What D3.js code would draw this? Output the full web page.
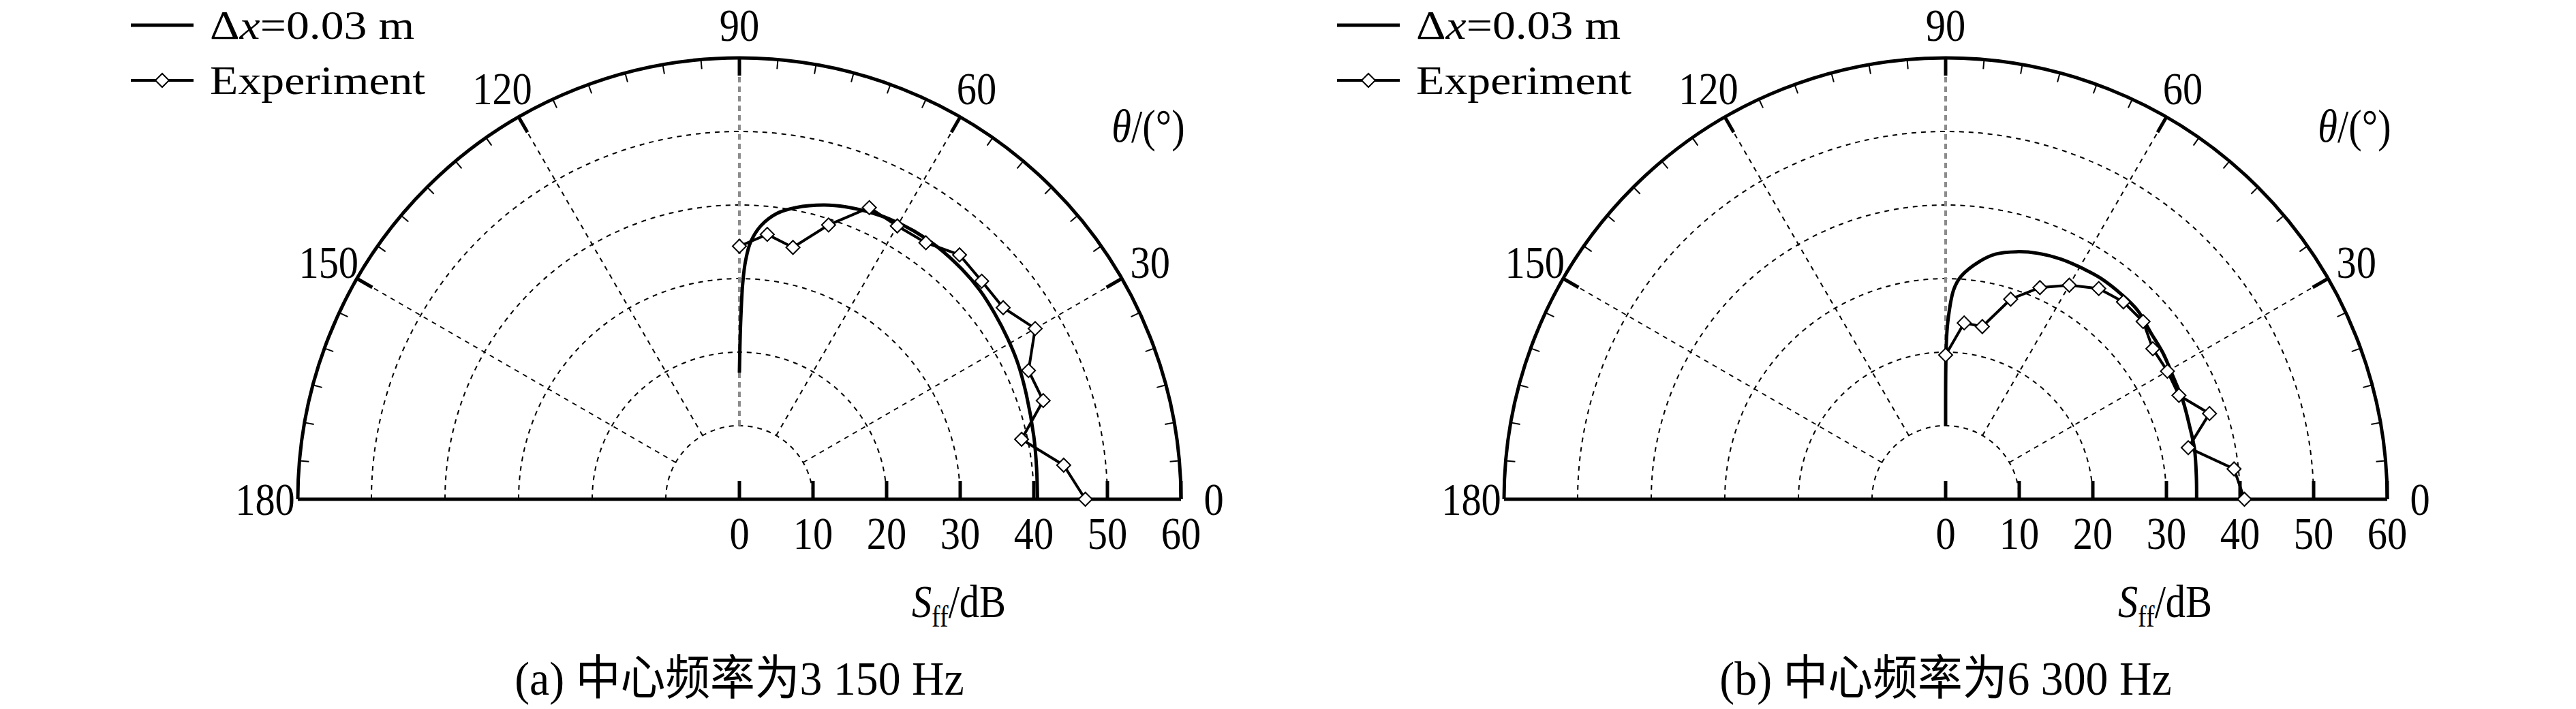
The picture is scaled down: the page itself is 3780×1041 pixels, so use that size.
<!DOCTYPE html>
<html>
<head>
<meta charset="utf-8">
<script src="https://cdn.jsdelivr.net/npm/d3@7"></script>
<style>
  body { margin: 0; background: #fff; }
  text { font-family: "Liberation Serif", "Times New Roman", "Noto Sans CJK SC", serif; fill: #000; }
</style>
</head>
<body>
<svg id="chart"></svg>
<script>
// ---- data ----
const angleTicks = [0, 30, 60, 90, 120, 150, 180];
const radialTicks = [0, 10, 20, 30, 40, 50, 60];
const gridRings = [10, 20, 30, 40, 50];
const spokeAngles = [30, 60, 90, 120, 150];

// experiment: one point every 6 degrees
const expTheta = [0, 6, 12, 18, 24, 30, 36, 42, 48, 54, 60, 66, 72, 78, 84, 90];
const expA = [47.0, 44.3, 39.2, 43.4, 43.0, 46.4, 44.3, 44.3, 44.7, 43.1, 42.9, 43.4, 39.2, 35.0, 36.2, 34.4];
const expB = [40.6, 39.4, 33.7, 37.7, 34.7, 34.8, 34.8, 36.1, 36.1, 35.4, 33.6, 31.5, 28.6, 24.0, 24.1, 19.6];

// simulation, dx = 0.03 m
const simThetaA = [0, 6, 12, 20, 26, 31, 36, 41, 46, 52, 57, 62, 66, 70, 74, 79, 82.5, 85.5, 87.5, 88.5, 89.1, 89.6, 90];
const simA = [40.5, 40.6, 40.9, 41.5, 42.1, 42.5, 42.9, 43.3, 43.5, 43.6, 43.5, 43.2, 42.8, 42.3, 41.6, 40.4, 39.2, 37.3, 35.0, 32.5, 29.5, 24.0, 17.2];
const simThetaB = [0, 5, 11.5, 16.6, 22.4, 28, 34, 39, 44.5, 49.3, 55, 59, 64.4, 69.5, 74, 78.5, 82, 86, 87.8, 89.3, 89.8, 90];
const simB = [34.1, 34.2, 34.5, 34.6, 34.9, 35.1, 35.6, 35.9, 36.6, 36.7, 36.7, 36.5, 36.2, 35.7, 35.0, 34.0, 32.6, 30.4, 28.5, 24.1, 20.4, 9.9];

const legendLabels = ['Experiment'];
const captions = ['(a) 中心频率为3 150 Hz', '(b) 中心频率为6 300 Hz'];

// ---- layout ----
const W = 3780, H = 1041;
const R = 648;
const centers = [1085, 2855];
const cy = 733;
const LBL = 68, LBL_SX = 0.86;   // labels are set tall and narrow in the source

const svg = d3.select('#chart').attr('width', W).attr('height', H);
svg.append('rect').attr('width', W).attr('height', H).attr('fill', '#fff');

const r = d3.scaleLinear().domain([0, 60]).range([0, R]);
// radial angle for d3 (0 = up, clockwise); theta is counter-clockwise from the right
const a = d3.scaleLinear().domain([0, 180]).range([Math.PI / 2, -Math.PI / 2]);
const pt = (deg, v) => d3.pointRadial(a(deg), r(v));

const simLine = d3.lineRadial().angle(d => a(d[0])).radius(d => r(d[1])).curve(d3.curveCatmullRom.alpha(0.5));
const expLine = d3.lineRadial().angle(d => a(d[0])).radius(d => r(d[1]));
const diamond = d3.symbol(d3.symbolSquare, 200);

function halfCircle(rad) {
  const p = d3.path();
  p.moveTo(-rad, 0);
  p.arc(0, 0, rad, Math.PI, 2 * Math.PI);
  return p.toString();
}

function label(g, x, y, size, sx) {
  return g.append('text')
    .attr('transform', `translate(${x},${y}) scale(${sx},1)`)
    .style('font-size', size + 'px');
}

function drawPanel(cx, simTheta, simVals, expVals, caption) {
  const g = svg.append('g').attr('transform', `translate(${cx},${cy})`);

  // Grid rings
  g.selectAll('.ring').data(gridRings).enter().append('path')
    .attr('d', d => halfCircle(r(d)))
    .attr('fill', 'none').attr('stroke', '#000').attr('stroke-width', 2)
    .attr('stroke-dasharray', '7,7');

  // Spokes (from ring 10 out to the rim)
  g.selectAll('.spoke').data(spokeAngles).enter().append('line')
    .attr('x1', d => pt(d, 10)[0]).attr('y1', d => pt(d, 10)[1])
    .attr('x2', d => pt(d, 60)[0]).attr('y2', d => pt(d, 60)[1])
    .attr('stroke', d => d === 90 ? '#8c8c8c' : '#000')
    .attr('stroke-width', d => d === 90 ? 4 : 2)
    .attr('stroke-dasharray', d => d === 90 ? '8,6' : '7,7');

  // Rim + minor/major ticks
  g.append('path').attr('d', halfCircle(R)).attr('fill', 'none').attr('stroke', '#000').attr('stroke-width', 5);
  const minor = d3.range(5, 180, 5).filter(d => d % 30 !== 0);
  g.selectAll('.minor').data(minor).enter().append('line')
    .attr('x1', d => pt(d, 60)[0]).attr('y1', d => pt(d, 60)[1])
    .attr('x2', d => d3.pointRadial(a(d), R - 14)[0]).attr('y2', d => d3.pointRadial(a(d), R - 14)[1])
    .attr('stroke', '#000').attr('stroke-width', 2);
  g.selectAll('.major').data(spokeAngles).enter().append('line')
    .attr('x1', d => pt(d, 60)[0]).attr('y1', d => pt(d, 60)[1])
    .attr('x2', d => d3.pointRadial(a(d), R - 26)[0]).attr('y2', d => d3.pointRadial(a(d), R - 26)[1])
    .attr('stroke', '#000').attr('stroke-width', 5);

  // Baseline and radial ticks
  g.append('line').attr('x1', -R).attr('x2', R).attr('y1', 0).attr('y2', 0)
    .attr('stroke', '#000').attr('stroke-width', 5);
  g.selectAll('.rtick').data(radialTicks).enter().append('line')
    .attr('x1', d => r(d)).attr('x2', d => r(d)).attr('y1', 0).attr('y2', -27)
    .attr('stroke', '#000').attr('stroke-width', 5);

  // Angle labels
  angleTicks.forEach(d => {
    const p = d3.pointRadial(a(d), R + 48);
    label(g, p[0], p[1] + 23, LBL, LBL_SX).attr('text-anchor', 'middle').text(d);
  });
  // Radial labels
  radialTicks.forEach(d => {
    label(g, r(d), 73, LBL, LBL_SX).attr('text-anchor', 'middle').text(d);
  });

  const th = label(g, 600, -525, LBL, LBL_SX).attr('text-anchor', 'middle');
  th.append('tspan').style('font-style', 'italic').text('θ');
  th.append('tspan').text('/(°)');

  const sl = label(g, 322, 173, LBL, LBL_SX).attr('text-anchor', 'middle');
  sl.append('tspan').style('font-style', 'italic').text('S');
  sl.append('tspan').attr('dy', 14).style('font-size', '44px').text('ff');
  sl.append('tspan').attr('dy', -14).text('/dB');

  // Curves
  const simData = simTheta.map((t, i) => [t, simVals[i]]);
  const expData = expTheta.map((t, i) => [t, expVals[i]]);
  g.append('path').datum(simData).attr('d', simLine)
    .attr('fill', 'none').attr('stroke', '#000').attr('stroke-width', 5);
  g.append('path').datum(expData).attr('d', expLine)
    .attr('fill', 'none').attr('stroke', '#000').attr('stroke-width', 4);
  g.selectAll('.mk').data(expData).enter().append('path')
    .attr('d', diamond)
    .attr('transform', d => `translate(${pt(d[0], d[1])}) rotate(45)`)
    .attr('fill', '#fff').attr('stroke', '#000').attr('stroke-width', 2);

  // Legend
  const lg = g.append('g').attr('transform', 'translate(-893,0)');
  lg.append('line').attr('x1', 0).attr('x2', 92).attr('y1', -696).attr('y2', -696)
    .attr('stroke', '#000').attr('stroke-width', 5);
  const l1 = label(lg, 116, -676, 60, 1.13);
  l1.append('tspan').text('Δ');
  l1.append('tspan').style('font-style', 'italic').text('x');
  l1.append('tspan').text('=0.03 m');
  lg.append('line').attr('x1', 0).attr('x2', 92).attr('y1', -615).attr('y2', -615)
    .attr('stroke', '#000').attr('stroke-width', 4);
  lg.append('path').attr('d', diamond).attr('transform', 'translate(46,-615) rotate(45)')
    .attr('fill', '#fff').attr('stroke', '#000').attr('stroke-width', 2);
  label(lg, 116, -595, 60, 1.13).text(legendLabels[0]);

  // Caption
  label(g, 0, 287, 70, 0.94).attr('text-anchor', 'middle').text(caption);
}

drawPanel(centers[0], simThetaA, simA, expA, captions[0]);
drawPanel(centers[1], simThetaB, simB, expB, captions[1]);
</script>
</body>
</html>
